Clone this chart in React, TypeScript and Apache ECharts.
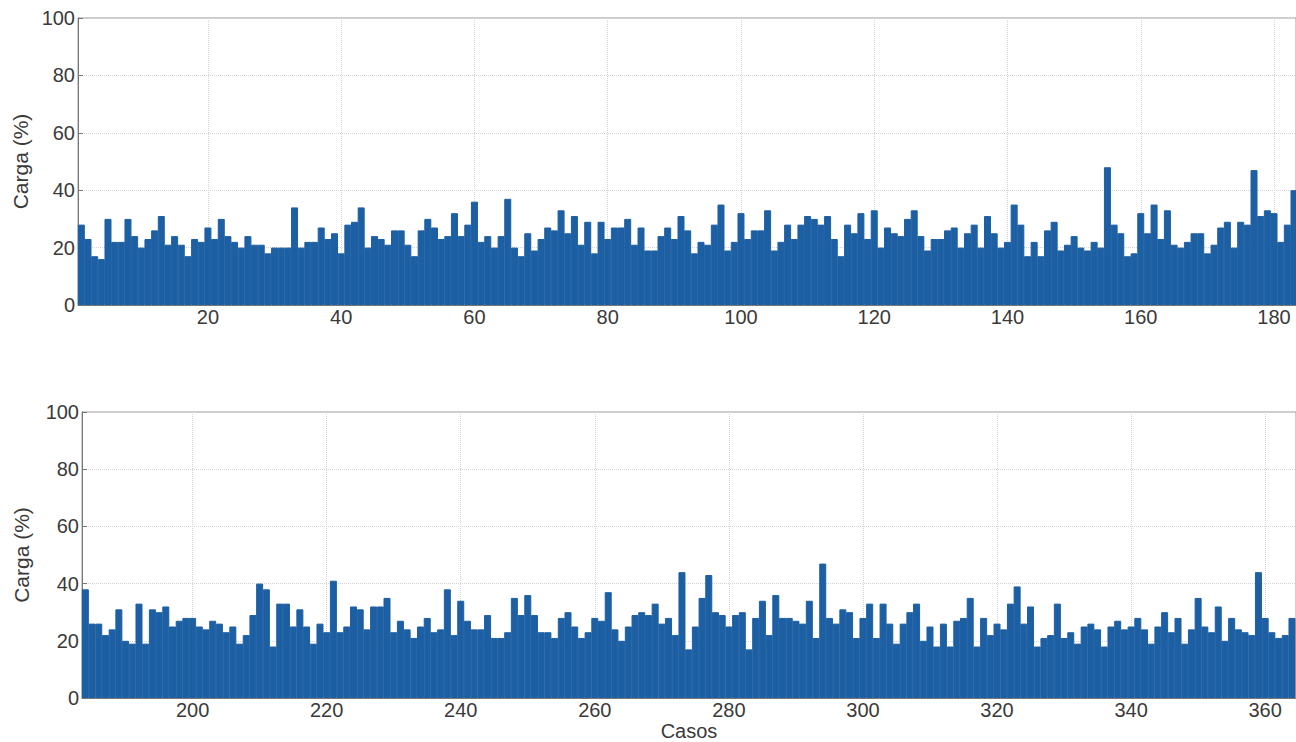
import React, { useEffect, useRef } from "react";
import * as echarts from "echarts";

const topStart = 1;
const topValues: number[] = [
  28, 23, 17, 16, 30, 22, 22, 30, 24, 20,
  23, 26, 31, 21, 24, 21, 17, 23, 22, 27,
  23, 30, 24, 22, 20, 24, 21, 21, 18, 20,
  20, 20, 34, 20, 22, 22, 27, 23, 25, 18,
  28, 29, 34, 20, 24, 23, 21, 26, 26, 21,
  17, 26, 30, 27, 23, 24, 32, 24, 28, 36,
  22, 24, 20, 24, 37, 20, 17, 25, 19, 23,
  27, 26, 33, 25, 31, 21, 29, 18, 29, 23,
  27, 27, 30, 21, 27, 19, 19, 24, 27, 23,
  31, 26, 18, 22, 21, 28, 35, 19, 22, 32,
  23, 26, 26, 33, 19, 22, 28, 23, 28, 31,
  30, 28, 31, 23, 17, 28, 25, 32, 23, 33,
  20, 27, 25, 24, 30, 33, 24, 19, 23, 23,
  26, 27, 20, 25, 28, 20, 31, 25, 20, 22,
  35, 28, 17, 22, 17, 26, 29, 19, 21, 24,
  20, 19, 22, 20, 48, 28, 25, 17, 18, 32,
  25, 35, 23, 33, 21, 20, 22, 25, 25, 18,
  21, 27, 29, 20, 29, 28, 47, 31, 33, 32,
  22, 28, 40,
];

const bottomStart = 184;
const bottomValues: number[] = [
  38, 26, 26, 22, 24, 31, 20, 19, 33, 19,
  31, 30, 32, 25, 27, 28, 28, 25, 24, 27,
  26, 23, 25, 19, 22, 29, 40, 38, 18, 33,
  33, 25, 31, 25, 19, 26, 23, 41, 23, 25,
  32, 31, 24, 32, 32, 35, 23, 27, 24, 21,
  25, 28, 23, 24, 38, 22, 34, 27, 24, 24,
  29, 21, 21, 23, 35, 29, 36, 29, 23, 23,
  21, 28, 30, 25, 21, 23, 28, 27, 37, 24,
  20, 25, 29, 30, 29, 33, 26, 28, 22, 44,
  17, 25, 35, 43, 30, 29, 25, 29, 30, 17,
  28, 34, 22, 36, 28, 28, 27, 26, 34, 21,
  47, 28, 26, 31, 30, 21, 28, 33, 21, 33,
  26, 19, 26, 30, 33, 20, 25, 18, 26, 18,
  27, 28, 35, 18, 28, 22, 26, 24, 33, 39,
  26, 32, 18, 21, 22, 33, 21, 23, 19, 25,
  26, 24, 18, 25, 27, 24, 25, 28, 24, 19,
  25, 30, 23, 28, 19, 24, 35, 25, 23, 32,
  20, 28, 24, 23, 22, 44, 28, 23, 21, 22,
  28,
];

const topXTicks = [20, 40, 60, 80, 100, 120, 140, 160, 180];
const bottomXTicks = [200, 220, 240, 260, 280, 300, 320, 340, 360];
const yLabel = "Carga (%)";
const xLabel = "Casos";

const FONT = "Liberation Sans, Arial, Helvetica, sans-serif";
const BAR = "#1d5fa3";
const TXT = "#3a3a3a";

export default function App() {
  const ref = useRef<HTMLDivElement>(null);
  useEffect(() => {
    if (!ref.current) return;
    const chart = echarts.init(ref.current, null, { renderer: "svg" });
    const toPairs = (vals: number[], start: number) =>
      vals.map((v, i) => [start + i, v]);

    const yAxisBase = (gridIndex: number, nameGap: number) => ({
      type: "value",
      gridIndex,
      min: 0,
      max: 100,
      interval: 20,
      name: yLabel,
      nameLocation: "middle",
      nameGap,
      nameTextStyle: { fontFamily: FONT, fontSize: 21, color: TXT },
      axisLine: { show: true, lineStyle: { color: "#777" } },
      axisTick: { show: true, inside: true, length: 5, lineStyle: { color: "#777" } },
      axisLabel: { fontFamily: FONT, fontSize: 20, color: TXT, margin: 3 },
      splitLine: { show: true, lineStyle: { color: "#d4d4d4", type: "dotted" } },
    });

    const xAxisBase = (gridIndex: number, min: number, max: number, ticks: number[]) => ({
      type: "value",
      gridIndex,
      min,
      max,
      axisLine: { show: true, onZero: false, lineStyle: { color: "#777" } },
      axisTick: { show: true, inside: true, length: 5, customValues: ticks, lineStyle: { color: "#777" } },
      axisLabel: { fontFamily: FONT, fontSize: 20, color: TXT, margin: 2, customValues: ticks },
      splitLine: { show: true, lineStyle: { color: "#d4d4d4", type: "dotted" } },
    });

    chart.setOption({
      animation: false,
      backgroundColor: "#ffffff",
      grid: [
        { left: 78, top: 18, right: 0, height: 287, show: true, borderColor: "#9a9a9a", borderWidth: 1 },
        { left: 82, top: 412, right: 0, height: 288, show: true, borderColor: "#9a9a9a", borderWidth: 1 },
      ],
      xAxis: [
        xAxisBase(0, 0.5, 183.3, topXTicks),
        {
          ...xAxisBase(1, 183.5, 364.6, bottomXTicks),
          name: xLabel,
          nameLocation: "middle",
          nameGap: 23,
          nameTextStyle: { fontFamily: FONT, fontSize: 20, color: TXT },
        },
      ],
      yAxis: [yAxisBase(0, 46), yAxisBase(1, 50)],
      series: [
        {
          type: "bar",
          xAxisIndex: 0,
          yAxisIndex: 0,
          data: toPairs(topValues, topStart),
          barWidth: 7,
          itemStyle: { color: BAR, borderColor: BAR, borderWidth: 1 },
          clip: true,
        },
        {
          type: "bar",
          xAxisIndex: 1,
          yAxisIndex: 1,
          data: toPairs(bottomValues, bottomStart),
          barWidth: 7,
          itemStyle: { color: BAR, borderColor: BAR, borderWidth: 1 },
          clip: true,
        },
      ],
    });
    return () => chart.dispose();
  }, []);
  return (
    <div
      ref={ref}
      style={{ position: "absolute", left: 0, top: 0, width: 1296, height: 742, background: "#fff" }}
    />
  );
}
